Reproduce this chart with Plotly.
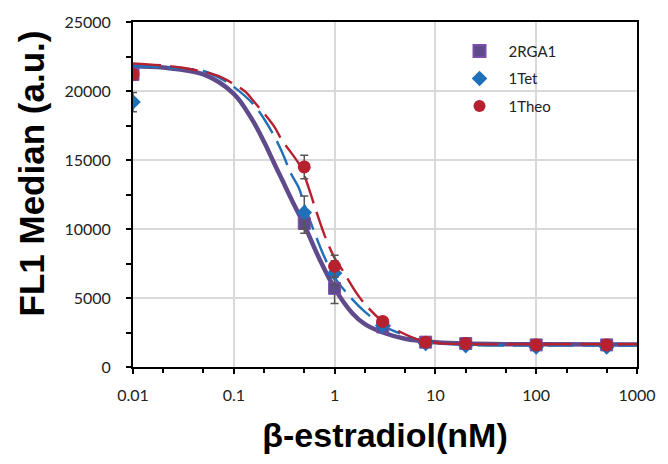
import plotly.graph_objects as go

# ---- data ----
conc = [0.01, 0.5, 1, 3, 8, 20, 100, 500]
rga1 = [21200, 10400, 5700, 2900, 1800, 1700, 1600, 1600]
rga1_err = [300, 700, 1100, 250, 150, 120, 120, 120]
tet = [19200, 11200, 6800, 3000, 1700, 1550, 1450, 1450]
tet_err = [700, 1200, 900, 250, 150, 120, 120, 120]
theo = [21200, 14500, 7300, 3300, 1800, 1700, 1600, 1600]
theo_err = [300, 850, 800, 250, 150, 120, 120, 120]

# fitted curves
rga1_fit_x = [0.01, 0.02, 0.05, 0.1, 0.15, 0.2, 0.25, 0.3, 0.4, 0.5, 0.7, 1.0, 1.5, 2, 3, 5, 7, 10, 20, 50, 100, 1000]
rga1_fit_y = [21800, 21700, 21200, 19800, 18000, 16300, 14800, 13600, 11700, 10300, 7900, 5700, 3900, 3100, 2500, 2050, 1900, 1800, 1700, 1650, 1640, 1630]
tet_fit_x = [0.01, 0.03, 0.05, 0.07, 0.1, 0.16, 0.24, 0.3, 0.37, 0.44, 0.5, 0.62, 0.8, 1.0, 1.5, 2, 3, 5, 8, 10, 20, 50, 100, 1000]
tet_fit_y = [21800, 21650, 21450, 21000, 20300, 18950, 17000, 15600, 14000, 13000, 11800, 9900, 7900, 6500, 4900, 4000, 3000, 2300, 1850, 1750, 1600, 1550, 1550, 1550]
theo_fit_x = [0.01, 0.03, 0.07, 0.1, 0.13, 0.16, 0.25, 0.3, 0.44, 0.5, 0.65, 0.8, 1.0, 1.2, 1.6, 2.0, 3, 4.6, 7, 10, 20, 100, 1000]
theo_fit_y = [22000, 21700, 21100, 20500, 19950, 19200, 17450, 16450, 14750, 13900, 11400, 9500, 7900, 7000, 5500, 4560, 3300, 2500, 1950, 1750, 1650, 1650, 1650]

x_tickvals = [0.01, 0.1, 1, 10, 100, 1000]
x_ticktext = ["0.01", "0.1", "1", "10", "100", "1000"]
y_tickvals = [0, 5000, 10000, 15000, 20000, 25000]
y_ticktext = ["0", "5000", "10000", "15000", "20000", "25000"]

PURPLE = "#5F4A8B"
BLUE = "#1F70B8"
RED = "#B7202E"
ERR = "#555555"

fig = go.Figure()

fig.add_trace(go.Scatter(x=rga1_fit_x, y=rga1_fit_y, mode="lines", line=dict(color=PURPLE, width=4.5, shape="spline"), showlegend=False, hoverinfo="skip"))
fig.add_trace(go.Scatter(x=tet_fit_x, y=tet_fit_y, mode="lines", line=dict(color=BLUE, width=2.4, dash="26px,9px", shape="spline"), showlegend=False, hoverinfo="skip"))
fig.add_trace(go.Scatter(x=theo_fit_x, y=theo_fit_y, mode="lines", line=dict(color=RED, width=2.4, dash="28px,9px", shape="spline"), showlegend=False, hoverinfo="skip"))

fig.add_trace(go.Scatter(x=conc, y=rga1, mode="markers", name="2RGA1", legendgroup="a",
                         marker=dict(symbol="square", size=12, color=PURPLE, line=dict(color="#7A4FA8", width=1)),
                         error_y=dict(type="data", array=rga1_err, color=ERR, thickness=1.5, width=4)))
fig.add_trace(go.Scatter(x=conc, y=tet, mode="markers", name="1Tet", legendgroup="b",
                         marker=dict(symbol="diamond", size=12, color=BLUE),
                         error_y=dict(type="data", array=tet_err, color=ERR, thickness=1.5, width=4)))
fig.add_trace(go.Scatter(x=conc, y=theo, mode="markers", name="1Theo", legendgroup="c",
                         marker=dict(symbol="circle", size=13, color=RED),
                         error_y=dict(type="data", array=theo_err, color=ERR, thickness=1.5, width=4)))

fig.update_layout(
    width=668, height=464,
    margin=dict(l=133, r=23, t=16, b=97),
    paper_bgcolor="white", plot_bgcolor="white",
    font=dict(family="Lato, Liberation Sans, Arial", size=16, color="#222222"),
    legend=dict(x=0.63, y=0.963, xanchor="left", yanchor="top", bgcolor="rgba(0,0,0,0)",
                font=dict(size=15, color="#222222"), itemsizing="constant",
                tracegroupgap=5, itemwidth=48),
    showlegend=True,
    annotations=[dict(text="<b>FL1 Median (a.u.)</b>", xref="paper", yref="paper",
                      x=0, xshift=-102, y=0.561, xanchor="center", yanchor="middle",
                      textangle=-90, showarrow=False,
                      font=dict(family="Liberation Sans, Arial", size=35, color="black"))],
)

fig.update_xaxes(
    type="log", range=[-2, 3],
    tickvals=x_tickvals, ticktext=x_ticktext,
    showgrid=True, gridcolor="#D9D9D9", gridwidth=1.5,
    showline=True, linecolor="black", linewidth=2, mirror=True,
    ticks="outside", ticklen=5, tickcolor="black", tickwidth=1.5,
    ticklabelstandoff=8,
    minor=dict(ticks="outside", ticklen=4, tickcolor="black", tickwidth=1.5, showgrid=False),
    title=dict(text="β-estradiol(nM)", font=dict(family="Liberation Sans, Arial", size=34, color="black", weight="bold"), standoff=20),
    zeroline=False,
)
fig.update_yaxes(
    range=[0, 25000],
    tickvals=y_tickvals, ticktext=y_ticktext,
    showgrid=True, gridcolor="#D9D9D9", gridwidth=1.5,
    showline=True, linecolor="black", linewidth=2, mirror=True,
    ticks="outside", ticklen=5, tickcolor="black", tickwidth=1.5,
    ticklabelstandoff=12,
    minor=dict(dtick=2500, ticks="outside", ticklen=5, tickcolor="black", tickwidth=1.5, showgrid=False),
    zeroline=False,
)

fig.write_html("out.html")
